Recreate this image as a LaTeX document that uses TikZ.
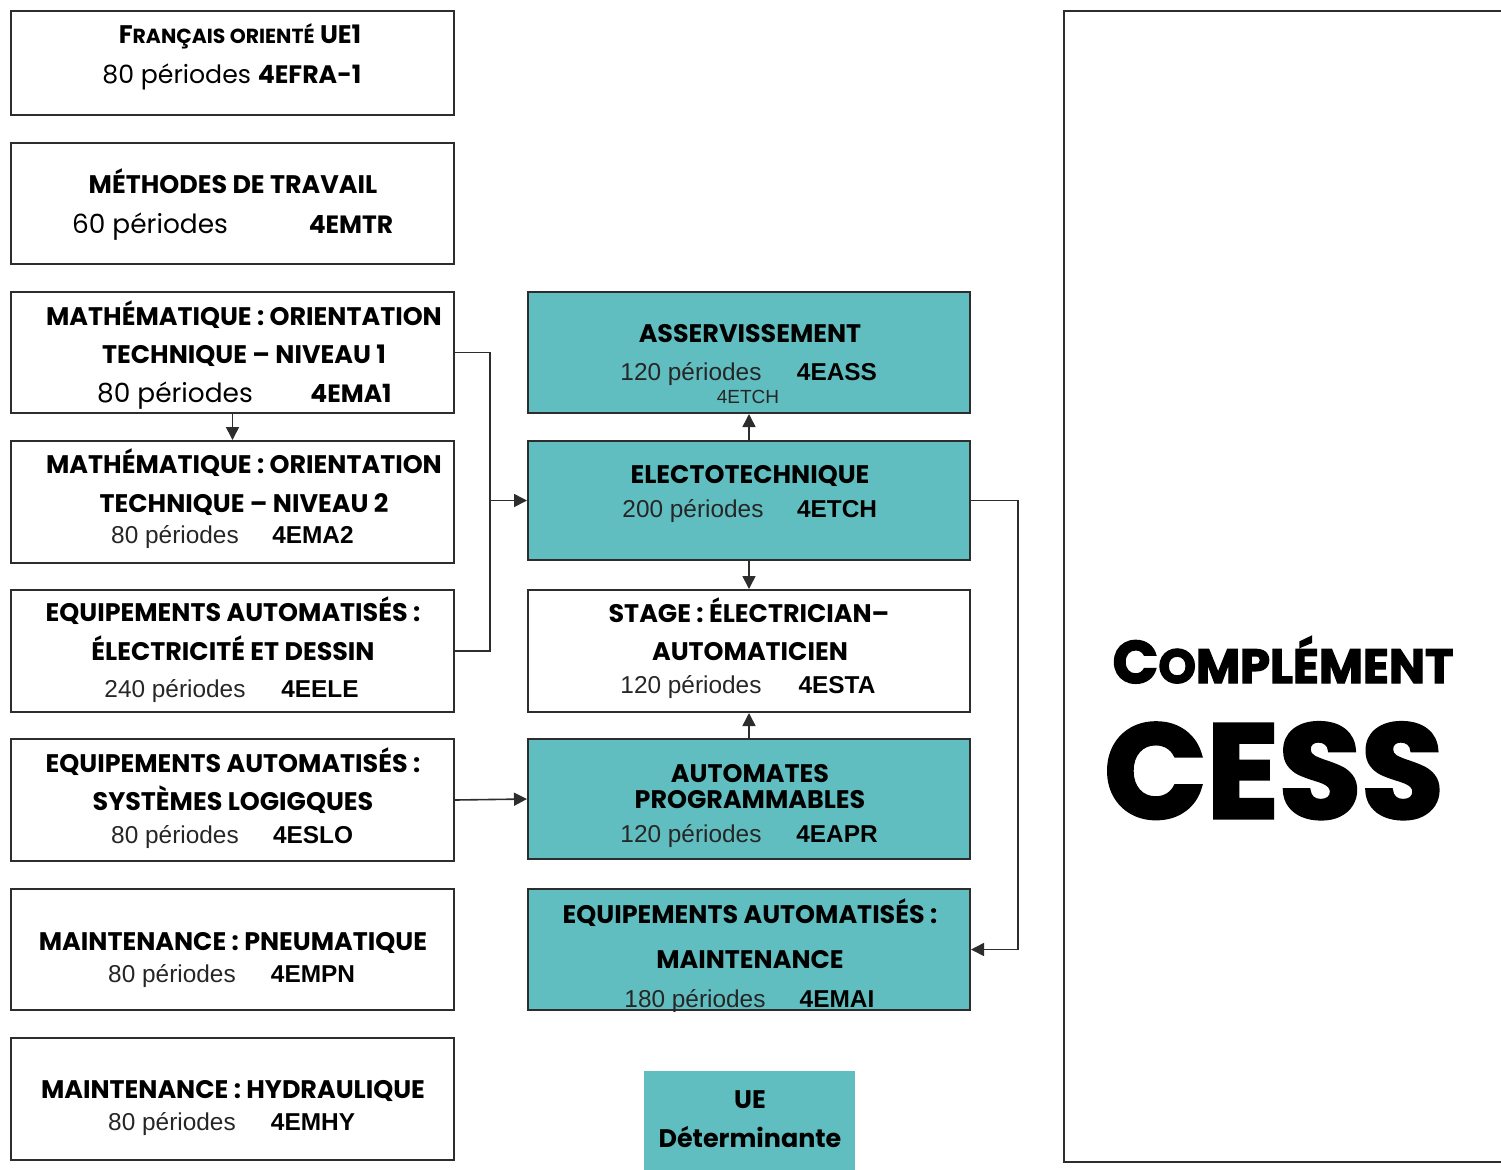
\documentclass[tikz,border=0pt]{standalone}
\usepackage{fontspec}
\setmainfont{Poppins}
\newfontfamily\ari{Liberation Sans}
\newfontfamily\heavy{Poppins}[BoldFeatures={FakeBold=2.5}]
\usetikzlibrary{arrows.meta,fit}
\definecolor{tealbg}{RGB}{96,190,192}
\definecolor{edge}{RGB}{45,45,45}
\tikzset{
  box/.style={draw=edge, line width=1pt, inner sep=0pt, rectangle},
  tbox/.style={box, fill=tealbg},
  ttl/.style={anchor=base, inner sep=0pt, font=\bfseries\fontsize{12.7}{14}\selectfont},
  per/.style={anchor=base, inner sep=0pt, font=\fontsize{13.2}{15}\selectfont},
  aper/.style={anchor=base, inner sep=0pt, font=\ari\fontsize{12.2}{14}\selectfont, text=black!85},
  code/.style={anchor=base, inner sep=0pt, font=\bfseries\fontsize{12.5}{14}\selectfont},
  acode/.style={anchor=base, inner sep=0pt, font=\ari\bfseries\fontsize{12.2}{14}\selectfont},
  wire/.style={draw=edge, line width=0.8pt},
  arr/.style={wire, -{Triangle[length=6.5pt,width=6.5pt]}},
}
\begin{document}
\begin{tikzpicture}[x=0.5pt,y=-0.5pt]
\useasboundingbox (0,0) rectangle (1501,1169);
\clip (0,0) rectangle (1501,1169);

% left column boxes
\node[box, fit={(11,11) (454,115)}] (b1) {};
\node[box, fit={(11,143) (454,264)}] (b2) {};
\node[box, fit={(11,292) (454,413)}] (b3) {};
\node[box, fit={(11,441) (454,563)}] (b4) {};
\node[box, fit={(11,590) (454,712)}] (b5) {};
\node[box, fit={(11,739) (454,861)}] (b6) {};
\node[box, fit={(11,889) (454,1010)}] (b7) {};
\node[box, fit={(11,1038) (454,1160)}] (b8) {};

% middle column boxes
\node[tbox, fit={(528,292) (970,413)}] (m1) {};
\node[tbox, fit={(528,441) (970,560)}] (m2) {};
\node[box, fit={(528,590) (970,712)}] (m3) {};
\node[tbox, fit={(528,739) (970,859)}] (m4) {};
\node[tbox, fit={(528,889) (970,1010)}] (m5) {};
\node[fill=tealbg, inner sep=0pt, fit={(644,1071) (855,1180)}] (ue) {};

% right box
\node[box, fit={(1064,11) (1530,1162)}] (cess) {};

% texts left
\node[ttl] (t1a) at (240,43) {{\fontsize{12.7}{14}\selectfont F}{\fontsize{10.2}{12}\selectfont RANÇAIS ORIENTÉ} UE1};
\node[per, font=\fontsize{12.6}{15}\selectfont, anchor=base west] (t1b) at (102,83) {80 périodes \textbf{4EFRA-1}};

\node[ttl] (t2a) at (233,193) {MÉTHODES DE TRAVAIL};
\node[per] (t2b) at (150,233) {60 périodes};
\node[code] (t2c) at (351,233) {4EMTR};

\node[ttl] (t3a) at (244,325) {MATHÉMATIQUE : ORIENTATION};
\node[ttl] (t3b) at (244,363) {TECHNIQUE – NIVEAU 1};
\node[per] (t3c) at (175,402) {80 périodes};
\node[code] (t3d) at (351,402) {4EMA1};

\node[ttl] (t4a) at (244,473) {MATHÉMATIQUE : ORIENTATION};
\node[ttl] (t4b) at (244,512) {TECHNIQUE – NIVEAU 2};
\node[aper] (t4c) at (175,543) {80 périodes};
\node[acode] (t4d) at (313,543) {4EMA2};

\node[ttl] (t5a) at (233,621) {EQUIPEMENTS AUTOMATISÉS :};
\node[ttl] (t5b) at (233,660) {ÉLECTRICITÉ ET DESSIN};
\node[aper] (t5c) at (175,697) {240 périodes};
\node[acode] (t5d) at (320,697) {4EELE};

\node[ttl] (t6a) at (233,772) {EQUIPEMENTS AUTOMATISÉS :};
\node[ttl] (t6b) at (233,810) {SYSTÈMES LOGIGQUES};
\node[aper] (t6c) at (175,843) {80 périodes};
\node[acode] (t6d) at (313,843) {4ESLO};

\node[ttl] (t7a) at (233,950) {MAINTENANCE : PNEUMATIQUE};
\node[aper] (t7c) at (172,982) {80 périodes};
\node[acode] (t7d) at (313,982) {4EMPN};

\node[ttl] (t8a) at (233,1098) {MAINTENANCE : HYDRAULIQUE};
\node[aper] (t8c) at (172,1130) {80 périodes};
\node[acode] (t8d) at (313,1130) {4EMHY};

% texts middle
\node[ttl] (u1a) at (750,342) {ASSERVISSEMENT};
\node[aper] (u1b) at (691,380) {120 périodes};
\node[acode] (u1c) at (837,380) {4EASS};
\node[aper, font=\ari\fontsize{9.5}{11}\selectfont] (u1d) at (748,403) {4ETCH};

\node[ttl] (u2a) at (750,483) {ELECTOTECHNIQUE};
\node[aper] (u2b) at (693,517) {200 périodes};
\node[acode] (u2c) at (837,517) {4ETCH};

\node[ttl] (u3a) at (749,622) {STAGE : ÉLECTRICIAN–};
\node[ttl] (u3b) at (750,660) {AUTOMATICIEN};
\node[aper] (u3c) at (691,693) {120 périodes};
\node[acode] (u3d) at (837,693) {4ESTA};

\node[ttl] (u4a) at (750,782) {AUTOMATES};
\node[ttl] (u4b) at (750,808) {PROGRAMMABLES};
\node[aper] (u4c) at (691,842) {120 périodes};
\node[acode] (u4d) at (837,842) {4EAPR};

\node[ttl] (u5a) at (750,923) {EQUIPEMENTS AUTOMATISÉS :};
\node[ttl] (u5b) at (750,968) {MAINTENANCE};
\node[aper] (u5c) at (695,1007) {180 périodes};
\node[acode] (u5d) at (837,1007) {4EMAI};

\node[ttl] (uea) at (750,1108) {UE};
\node[ttl] (ueb) at (750,1147) {Déterminante};

% right texts
\node[anchor=base, inner sep=0pt, font=\heavy\bfseries] (cpl) at (1283,683) {{\fontsize{30}{31}\selectfont C}{\fontsize{24}{25}\selectfont OMPLÉMENT}};
\node[anchor=base, inner sep=0pt, font=\heavy\bfseries\fontsize{67}{67}\selectfont] (cs) at (1274,818) {CESS};

% connectors
\coordinate (j) at (490,500.5);
\coordinate (k) at (1018,949.5);
\draw[wire] (b3.east) -| (j);
\draw[wire] (b5.east) -| (j);
\draw[arr] (j) -- (m2.west);
\draw[arr] (b3.south) -- (b4.north);
\draw[arr] (m2.north) -- (m1.south);
\draw[arr] (m2.south) -- (m3.north);
\draw[arr] (m4.north) -- (m3.south);
\draw[arr] (b6.east) -- (m4.west);
\draw[arr] (m2.east) -| (k) -- (m5.east);
\end{tikzpicture}
\end{document}
